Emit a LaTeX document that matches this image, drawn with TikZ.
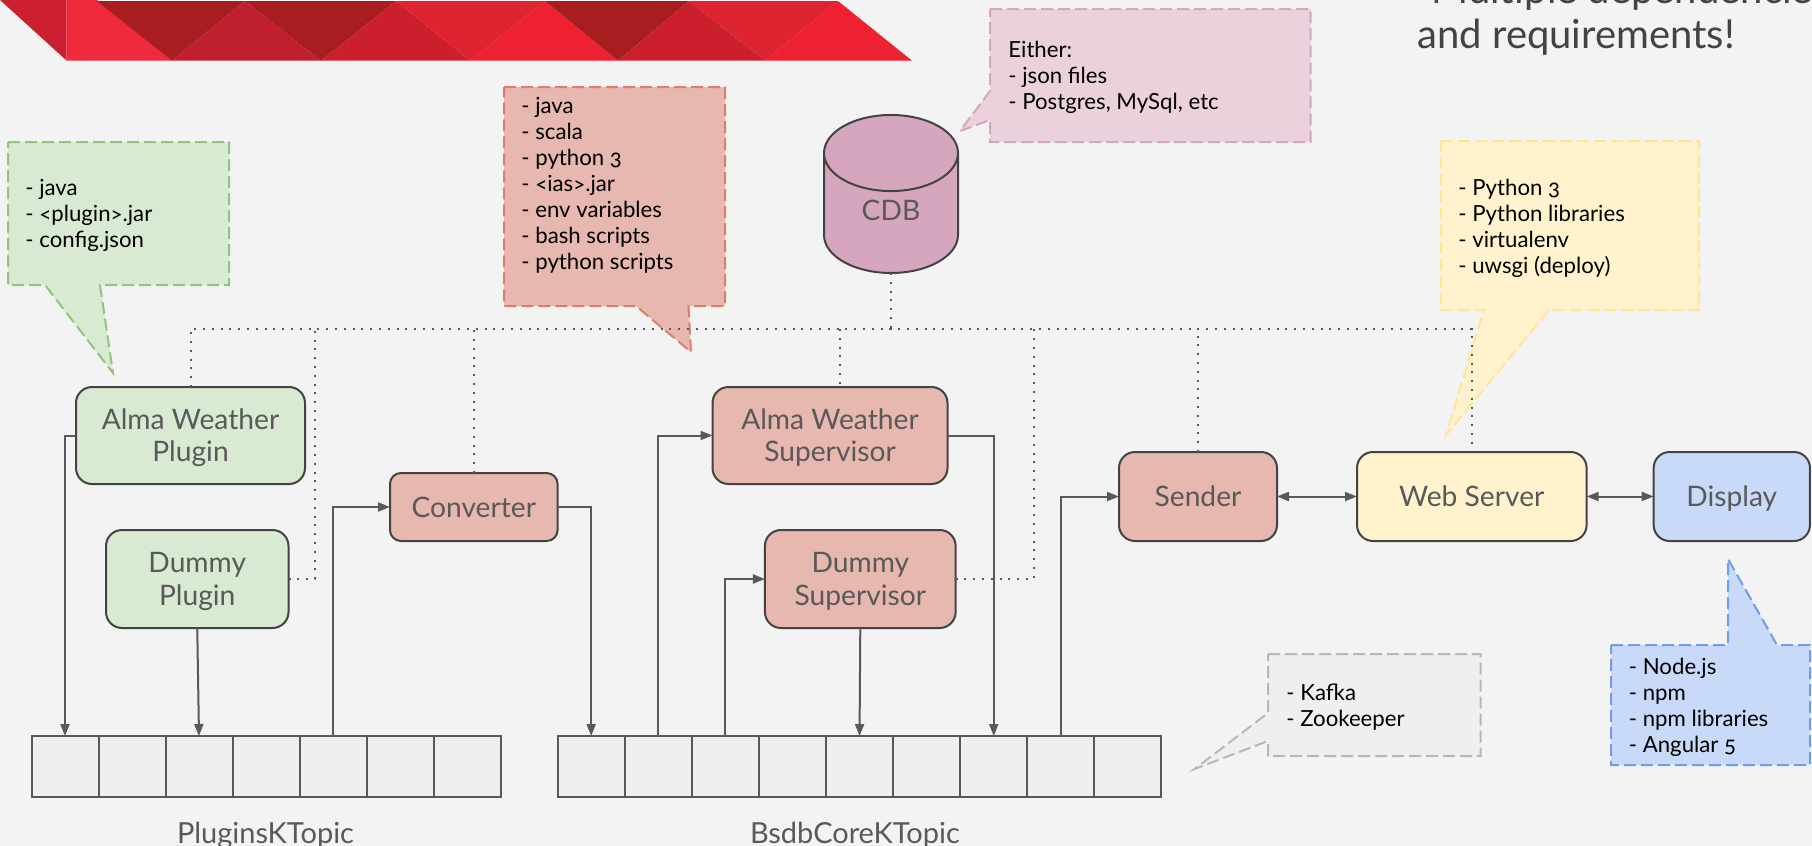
\documentclass[tikz,border=0pt]{standalone}
\usepackage{fontspec}
\setmainfont{Lato}[Numbers=OldStyle]
\usepackage{tikz}
\usetikzlibrary{positioning,arrows.meta,shapes.geometric}

\definecolor{bgpage}{HTML}{F3F3F3}
\definecolor{redA}{HTML}{CC1F2F}
\definecolor{redB}{HTML}{EE2A3C}
\definecolor{redC}{HTML}{A81E20}
\definecolor{redD}{HTML}{C01F30}
\definecolor{redE}{HTML}{CC1F2E}
\definecolor{redF}{HTML}{DE2430}
\definecolor{redG}{HTML}{EE2130}
\definecolor{greenfill}{HTML}{D9EAD3}
\definecolor{greenline}{HTML}{93C47D}
\definecolor{salmonfill}{HTML}{E6B8AF}
\definecolor{salmonline}{HTML}{DD7E6B}
\definecolor{pinkfill}{HTML}{EAD1DC}
\definecolor{pinkline}{HTML}{D5A6BD}
\definecolor{cdbfill}{HTML}{D5A6BD}
\definecolor{yellowfill}{HTML}{FFF2CC}
\definecolor{yellowline}{HTML}{FFE599}
\definecolor{bluefill}{HTML}{C9DAF8}
\definecolor{blueline}{HTML}{6D9EEB}
\definecolor{greyfill}{HTML}{EFEFEF}
\definecolor{greyline}{HTML}{B7B7B7}
\definecolor{boxline}{HTML}{434343}
\definecolor{boxtext}{HTML}{595959}

\tikzset{
  wh/.style 2 args={minimum width=#1*0.5pt, minimum height=#2*0.5pt},
  box/.style={draw=boxline, line width=1pt, rounded corners=8pt, align=center,
    text=boxtext, outer sep=0pt, inner sep=0pt,
    font=\fontsize{14.1}{16.2}\selectfont},
  oneline/.style={box, text height=13.5pt, text depth=3.5pt},
  twoline/.style={box, text height=29.7pt, text depth=3.5pt},
  cell/.style={draw=boxtext, line width=1pt, fill=greyfill, outer sep=0pt,
    inner sep=0pt, wh={67}{61}},
  toplabel/.style={text=boxtext, inner sep=0pt, font=\fontsize{14.5}{16}\selectfont},
  link/.style={draw=boxtext, line width=1pt, -{Triangle[length=6pt,width=4.5pt]}},
  bothlink/.style={draw=boxtext, line width=1pt, {Triangle[length=6pt,width=4.5pt]}-{Triangle[length=6pt,width=4.5pt]}},
  dep/.style={draw=boxtext, line width=1pt, dash pattern=on 1pt off 3.4pt},
  note/.style={line width=1pt, dash pattern=on 6pt off 2.5pt},
  notetext/.style={anchor=west, align=left, inner sep=0pt, text=black,
    font=\fontsize{11.1}{13}\selectfont},
}

\begin{document}
\begin{tikzpicture}[x=0.5pt, y=-0.5pt]
\useasboundingbox[fill=bgpage] (0,0) rectangle (1812,846);

% banner
\fill[redA] (0,0) -- (66.7,0) -- (66.7,60.7) -- cycle;
\fill[redB] (66.7,0) -- (97,0) -- (172,60.7) -- (66.7,60.7) -- cycle;
\fill[redC] (97,1) -- (245,1) -- (172,60.7) -- cycle;
\fill[redD] (245,1) -- (321,60.7) -- (172,60.7) -- cycle;
\fill[redC] (245,1) -- (396,1) -- (321,60.7) -- cycle;
\fill[redE] (396,1) -- (470,60.7) -- (321,60.7) -- cycle;
\fill[redF] (396,1) -- (545,1) -- (470,60.7) -- cycle;
\fill[redG] (545,1) -- (618,60.7) -- (470,60.7) -- cycle;
\fill[redC] (545,1) -- (689,1) -- (618,60.7) -- cycle;
\fill[redE] (689,1) -- (765,60.7) -- (618,60.7) -- cycle;
\fill[redF] (689,1) -- (838,1) -- (765,60.7) -- cycle;
\fill[redG] (838,1) -- (912,60.7) -- (765,60.7) -- cycle;

% title
\node (title) [anchor=base west, align=left, inner sep=0pt, text=boxline,
  font=\fontsize{20}{22.4}\selectfont] at (1417,48)
  {\hspace*{7pt}Multiple dependencies\\and requirements!};

% notes
\draw[note, fill=greenfill, draw=greenline] (8,142) -- (229,142) -- (229,285) -- (100,285)
  -- (113,373) -- (45,285) -- (8,285) -- cycle;
\node[notetext] (plugnote) at (25,215) {- java\\- <plugin>.jar\\- config.json};

\draw[note, fill=salmonfill, draw=salmonline] (504,87) -- (725,87) -- (725,306) -- (688.5,306)
  -- (691,352) -- (636,306) -- (504,306) -- cycle;
\node[notetext] (convnote) at (521,185.5) {- java\\- scala\\- python 3\\- <ias>.jar\\- env variables\\- bash scripts\\- python scripts};

\draw[note, fill=pinkfill, draw=pinkline] (990,9) -- (1310.6,9) -- (1310.6,142) -- (990,142)
  -- (990,120) -- (960,131) -- (990,91) -- cycle;
\node[notetext] (cdbnote) at (1008,77) {Either:\\- json files\\- Postgres, MySql, etc};

\draw[note, fill=yellowfill, draw=yellowline] (1441,141) -- (1699,141) -- (1699,310) -- (1549,310)
  -- (1446,435) -- (1484,310) -- (1441,310) -- cycle;
\node[notetext] (webnote) at (1458,228) {- Python 3\\- Python libraries\\- virtualenv\\- uwsgi (deploy)};

\draw[note, fill=greyfill, draw=greyline] (1268,654) -- (1480.5,654) -- (1480.5,756) -- (1268,756)
  -- (1268,741) -- (1194.6,769) -- (1268,713) -- cycle;
\node[notetext] (kafkanote) at (1286,707) {- Kafka\\- Zookeeper};

\draw[note, fill=bluefill, draw=blueline] (1611,645) -- (1728,645) -- (1728,559) -- (1777,645)
  -- (1810,645) -- (1810,765) -- (1611,765) -- cycle;
\node[notetext] (displaynote) at (1628.5,707) {- Node.js\\- npm\\- npm libraries\\- Angular 5};

% boxes
\node[twoline, fill=greenfill, wh={229}{97}] (almaplugin) at (190.5,435.5) {Alma Weather\\Plugin};
\node[twoline, fill=greenfill, wh={182.5}{98}] (dummyplugin) at (197.25,579) {Dummy\\Plugin};
\node[oneline, fill=salmonfill, wh={167.6}{68}, rounded corners=5.5pt] (converter) at (473.8,507) {Converter};
\node[twoline, fill=salmonfill, wh={235}{97}] (almasup) at (830,435.5) {Alma Weather\\Supervisor};
\node[twoline, fill=salmonfill, wh={190.7}{98}] (dummysup) at (860.3,579) {Dummy\\Supervisor};
\node[oneline, fill=salmonfill, wh={158}{89}] (sender) at (1198,496.5) {Sender};
\node[oneline, fill=yellowfill, wh={229.6}{89}] (webserver) at (1471.8,496.5) {Web Server};
\node[oneline, fill=bluefill, wh={156.3}{89}] (display) at (1731.8,496.5) {Display};
\node[box, fill=cdbfill, cylinder, shape border rotate=90, aspect=1.3, rounded corners=0pt,
  minimum width=67pt, minimum height=79pt] (cdb) at (891,213.5) {\raisebox{3.5pt}{CDB}};

% topics
\foreach \i in {1,...,7} {
  \node[cell] (pk\i) at ({31.5+67*(\i-0.5)},766.5) {};
}
\foreach \i in {1,...,9} {
  \node[cell] (bk\i) at ({557.6+67.1*(\i-0.5)},766.5) {};
}
\node[toplabel] (pklabel) at (265.5,835) {PluginsKTopic};
\node[toplabel] (bklabel) at (855,835) {BsdbCoreKTopic};

% dotted lines to the cdb
\coordinate (bus) at (891,329);
\coordinate (tapa) at (315,329);
\coordinate (tapb) at (1033.6,329);
\coordinate (tapc) at (840,329);
\draw[dep] (cdb.south) -- (bus);
\draw[dep] (almaplugin.north) |- (bus) -| (webserver.north);
\draw[dep] (dummyplugin.east) -| (tapa);
\draw[dep] (converter.north) -- (converter.north |- bus);
\draw[dep] (tapc) -- (tapc |- almasup.north);
\draw[dep] (dummysup.east) -| (tapb);
\draw[dep] (sender.north) -- (sender.north |- bus);

% data flow
\draw[link] (almaplugin.west) -| (pk1.north);
\draw[link] (dummyplugin.south) -- (pk3.north);
\draw[link] (pk5.north) |- (converter.west);
\draw[link] (converter.east) -| (bk1.north);
\draw[link] (bk2.north) |- (almasup.west);
\draw[link] (bk3.north) |- (dummysup.west);
\draw[link] (dummysup.south) -- (bk5.north);
\draw[link] (almasup.east) -| (bk7.north);
\draw[link] (bk8.north) |- (sender.west);
\draw[bothlink] (sender.east) -- (webserver.west);
\draw[bothlink] (webserver.east) -- (display.west);
\end{tikzpicture}
\end{document}
